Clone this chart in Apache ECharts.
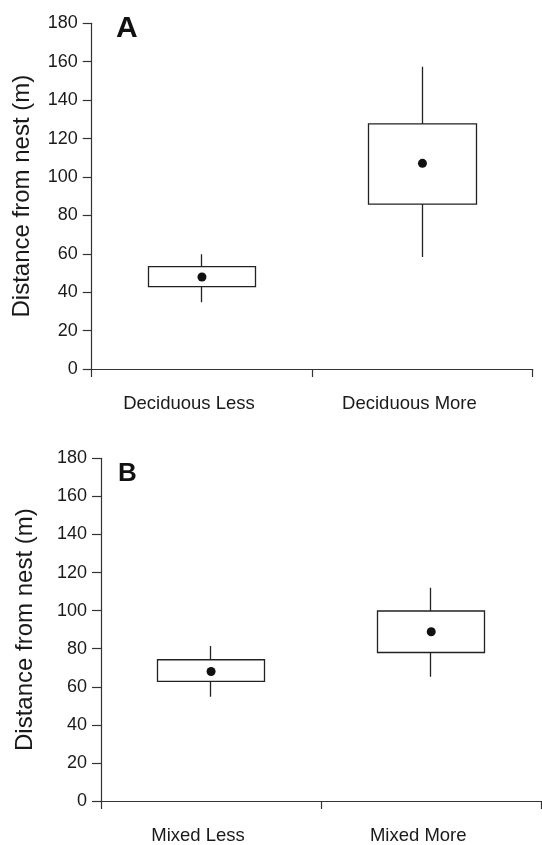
<!DOCTYPE html>
<html>
<head>
<meta charset="utf-8">
<script src="https://cdn.jsdelivr.net/npm/echarts@6/dist/echarts.min.js"></script>
<style>
html,body{margin:0;padding:0;background:#fff;}
#chart{width:542px;height:845px;}
</style>
</head>
<body>
<div id="chart"></div>
<script>
// Panel A
const catsA = ['Deciduous Less', 'Deciduous More'];
const lowA  = [34.7, 58.3];
const q1A   = [42.9, 85.8];
const q3A   = [53.3, 127.6];
const highA = [59.7, 157.4];
const meanA = [47.9, 107.1];
// Panel B
const catsB = ['Mixed Less', 'Mixed More'];
const lowB  = [54.7, 65.2];
const q1B   = [62.8, 78.0];
const q3B   = [74.2, 99.8];
const highB = [81.4, 112.0];
const meanB = [68.0, 88.9];

const yTicks = { min: 0, max: 180, interval: 20 };
const yTitle = 'Distance from nest (m)';

const FONT = '"Liberation Sans", Arial, sans-serif';
const AX = '#333';
const TXT = '#1a1a1a';

function xAxisCfg(cats, gridIndex) {
  return {
    type: 'category', gridIndex, data: cats, boundaryGap: true,
    axisLine: { lineStyle: { color: AX, width: 1.2 } },
    axisTick: { show: true, alignWithLabel: false, length: 8, lineStyle: { color: AX, width: 1.2 } },
    axisLabel: { color: TXT, fontSize: 18.5, fontFamily: FONT, margin: 25, padding: [0, 26, 0, 0] },
    splitLine: { show: false }
  };
}
function yAxisCfg(gridIndex, gap) {
  return {
    type: 'value', gridIndex, min: yTicks.min, max: yTicks.max, interval: yTicks.interval,
    name: yTitle, nameLocation: 'middle', nameGap: gap,
    nameTextStyle: { color: TXT, fontSize: 24, fontFamily: FONT },
    axisLine: { show: true, lineStyle: { color: AX, width: 1.2 } },
    axisTick: { show: true, length: 9, lineStyle: { color: AX, width: 1.2 } },
    axisLabel: { color: TXT, fontSize: 18, fontFamily: FONT, margin: 14 },
    splitLine: { show: false }
  };
}
function candle(q1, q3, low, high) {
  return q1.map((v, i) => [v, q3[i], low[i], high[i]]);
}
const boxStyle = { color: '#fff', color0: '#fff', borderColor: '#222', borderColor0: '#222', borderWidth: 1.3 };
const dotStyle = { color: '#111', opacity: 1 };

const chart = echarts.init(document.getElementById('chart'), null, { renderer: 'canvas' });
chart.setOption({
  backgroundColor: '#fff',
  animation: false,
  grid: [
    { left: 91.7, right: 9.3, top: 23.3, height: 345.7 },
    { left: 101, right: 0.7, top: 458.3, height: 347.7 }
  ],
  xAxis: [xAxisCfg(catsA, 0), xAxisCfg(catsB, 1)],
  yAxis: [yAxisCfg(0, 57), yAxisCfg(1, 64)],
  graphic: [
    { type: 'text', left: 116, top: 14, style: { text: 'A', font: 'bold 30px ' + FONT, fill: '#111' } },
    { type: 'text', left: 118, top: 461, style: { text: 'B', font: 'bold 26px ' + FONT, fill: '#111' } }
  ],
  series: [
    { type: 'candlestick', xAxisIndex: 0, yAxisIndex: 0, barWidth: 108,
      data: candle(q1A, q3A, lowA, highA), itemStyle: boxStyle },
    { type: 'scatter', xAxisIndex: 0, yAxisIndex: 0, symbol: 'circle', symbolSize: 9,
      data: meanA, itemStyle: dotStyle },
    { type: 'candlestick', xAxisIndex: 1, yAxisIndex: 1, barWidth: 107,
      data: candle(q1B, q3B, lowB, highB), itemStyle: boxStyle },
    { type: 'scatter', xAxisIndex: 1, yAxisIndex: 1, symbol: 'circle', symbolSize: 9,
      data: meanB, itemStyle: dotStyle }
  ]
});
</script>
</body>
</html>
